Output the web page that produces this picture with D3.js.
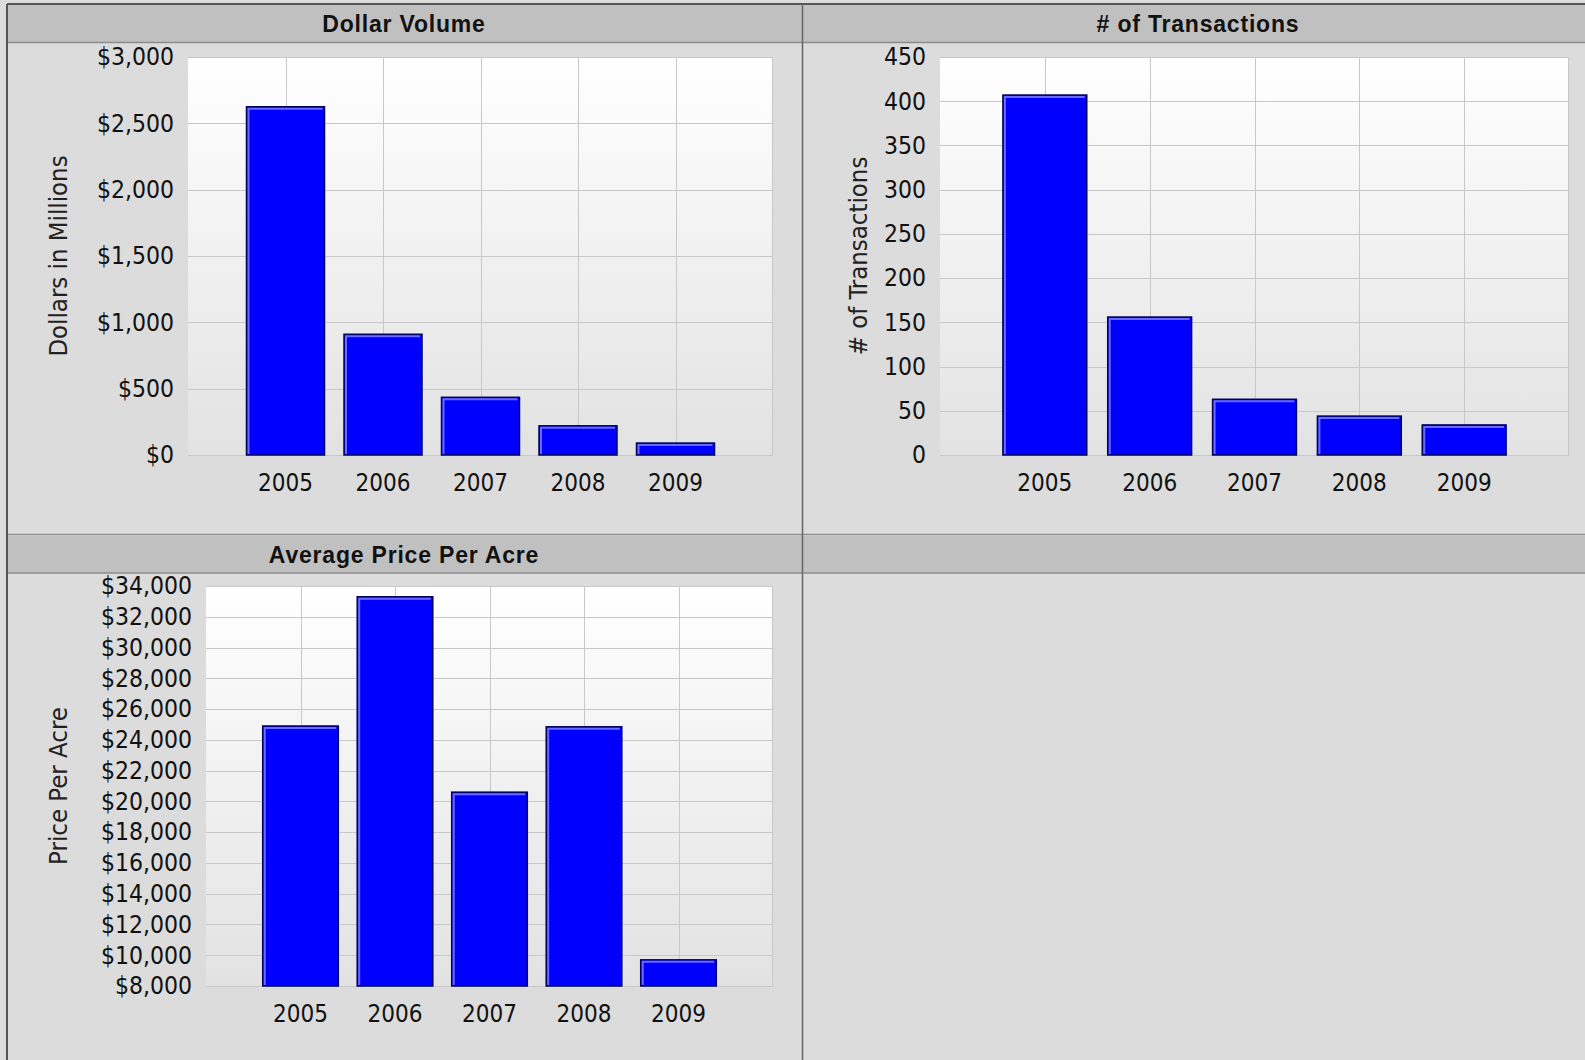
<!DOCTYPE html>
<html>
<head>
<meta charset="utf-8">
<script src="https://cdn.jsdelivr.net/npm/d3@7"></script>
<style>
  body { margin: 0; background: #dcdcdc; }
  svg { display: block; }
</style>
</head>
<body>
<svg id="chart" width="1585" height="1060"></svg>
<script>
// data
const years = ['2005', '2006', '2007', '2008', '2009'];
const dollarVolume = [2625, 910, 435, 220, 90];          // millions
const transactions = [407, 156, 63, 44, 34];
const pricePerAcre = [24900, 33300, 20600, 24850, 9700];

const dollarTicks = [0, 500, 1000, 1500, 2000, 2500, 3000];
const transTicks = [0, 50, 100, 150, 200, 250, 300, 350, 400, 450];
const priceTicks = [8000, 10000, 12000, 14000, 16000, 18000, 20000, 22000,
                    24000, 26000, 28000, 30000, 32000, 34000];

const svg = d3.select('#chart');
const W = 1585, H = 1060;
const TICK_FONT = '"DejaVu Sans Condensed", "DejaVu Sans", sans-serif';
const TITLE_FONT = '"Liberation Sans", Arial, sans-serif';

// gradient for plot backgrounds
const defs = svg.append('defs');
const grad = defs.append('linearGradient').attr('id', 'plotBg')
  .attr('x1', 0).attr('y1', 0).attr('x2', 0).attr('y2', 1);
grad.append('stop').attr('offset', '0%').attr('stop-color', '#ffffff');
grad.append('stop').attr('offset', '100%').attr('stop-color', '#e2e2e2');

// panel frame
const DIV_X = 802;
svg.append('rect').attr('x', 7).attr('y', 4).attr('width', W - 7).attr('height', H - 4)
  .attr('fill', '#dcdcdc');
[[4, 42.5], [536, 573]].forEach(([y0, y1]) => {
  svg.append('rect').attr('x', 7).attr('y', y0).attr('width', W - 7).attr('height', y1 - y0)
    .attr('fill', '#c0c0c0');
  svg.append('line').attr('x1', 7).attr('x2', W).attr('y1', y1).attr('y2', y1)
    .attr('stroke', '#8c8c8c').attr('stroke-width', 1.5);
});
svg.append('line').attr('x1', 7).attr('x2', W).attr('y1', 534.5).attr('y2', 534.5)
  .attr('stroke', '#8c8c8c').attr('stroke-width', 1.5);
svg.append('line').attr('x1', 7).attr('x2', W).attr('y1', 4).attr('y2', 4)
  .attr('stroke', '#555').attr('stroke-width', 2);
svg.append('line').attr('x1', 7).attr('x2', 7).attr('y1', 4).attr('y2', H)
  .attr('stroke', '#555').attr('stroke-width', 2);
svg.append('line').attr('x1', DIV_X + 0.5).attr('x2', DIV_X + 0.5).attr('y1', 4).attr('y2', H)
  .attr('stroke', '#666').attr('stroke-width', 1.5);

function drawPanel({title, cx, titleY, plot, values, ticks, fmt, yLabel, yLabelX}) {
  // header title
  svg.append('text')
    .attr('x', cx).attr('y', titleY)
    .attr('text-anchor', 'middle')
    .attr('font-family', TITLE_FONT).attr('font-weight', 'bold').attr('font-size', 23)
    .attr('letter-spacing', 0.8)
    .attr('fill', '#111')
    .text(title);

  const x = d3.scaleBand().domain(years)
    .range([plot.left, plot.right])
    .paddingInner(0.2).paddingOuter(0.6);
  const y = d3.scaleLinear().domain([ticks[0], ticks[ticks.length - 1]])
    .range([plot.bottom, plot.top]);

  const g = svg.append('g');
  g.append('rect')
    .attr('x', plot.left).attr('y', plot.top)
    .attr('width', plot.right - plot.left).attr('height', plot.bottom - plot.top)
    .attr('fill', 'url(#plotBg)');

  // grid
  g.selectAll('line.hgrid').data(ticks).join('line')
    .attr('class', 'hgrid')
    .attr('x1', plot.left).attr('x2', plot.right)
    .attr('y1', d => Math.round(y(d)) + 0.5).attr('y2', d => Math.round(y(d)) + 0.5)
    .attr('stroke', '#c8c8c8');
  g.selectAll('line.vgrid').data(years).join('line')
    .attr('class', 'vgrid')
    .attr('x1', d => Math.round(x(d) + x.bandwidth() / 2) + 0.5)
    .attr('x2', d => Math.round(x(d) + x.bandwidth() / 2) + 0.5)
    .attr('y1', plot.top).attr('y2', plot.bottom)
    .attr('stroke', '#c8c8c8');
  g.append('line')
    .attr('x1', plot.right - 0.5).attr('x2', plot.right - 0.5)
    .attr('y1', plot.top).attr('y2', plot.bottom)
    .attr('stroke', '#c8c8c8');

  // bars
  const data = years.map((yr, i) => ({yr, v: values[i]}));
  const bars = g.selectAll('g.bar').data(data).join('g').attr('class', 'bar');
  bars.append('rect')
    .attr('x', d => x(d.yr)).attr('y', d => y(d.v))
    .attr('width', x.bandwidth()).attr('height', d => y(ticks[0]) - y(d.v))
    .attr('fill', '#0000ff')
    .attr('stroke', '#000060').attr('stroke-width', 1.5);
  bars.append('path')
    .attr('d', d => {
      const x0 = x(d.yr) + 2, y0 = y(d.v) + 2;
      return `M${x0},${y(ticks[0]) - 1}V${y0}H${x(d.yr) + x.bandwidth() - 2}`;
    })
    .attr('fill', 'none').attr('stroke', '#6a6aff').attr('stroke-width', 2);

  // y axis
  const yAxis = g.append('g')
    .attr('transform', `translate(${plot.left - 14},0)`)
    .call(d3.axisLeft(y).tickValues(ticks).tickFormat(fmt).tickSize(0).tickPadding(0));
  yAxis.select('.domain').remove();
  yAxis.selectAll('text')
    .attr('font-family', TICK_FONT).attr('font-size', 24.5).attr('fill', '#111');

  // x axis
  const xAxis = g.append('g')
    .attr('transform', `translate(0,${plot.bottom + 19})`)
    .call(d3.axisBottom(x).tickSize(0).tickPadding(0));
  xAxis.select('.domain').remove();
  xAxis.selectAll('text')
    .attr('font-family', TICK_FONT).attr('font-size', 24).attr('fill', '#111');

  // y label
  svg.append('text')
    .attr('transform', `translate(${yLabelX},${(plot.top + plot.bottom) / 2}) rotate(-90)`)
    .attr('text-anchor', 'middle')
    .attr('font-family', TICK_FONT).attr('font-size', 25.5).attr('fill', '#222')
    .text(yLabel);
}

const dollarFmt = d3.format('$,');

drawPanel({
  title: 'Dollar Volume', cx: 404, titleY: 32,
  plot: {left: 188, right: 773, top: 57, bottom: 455},
  values: dollarVolume, ticks: dollarTicks, fmt: dollarFmt,
  yLabel: 'Dollars in Millions', yLabelX: 67
});

drawPanel({
  title: '# of Transactions', cx: 1198, titleY: 32,
  plot: {left: 940, right: 1569, top: 57, bottom: 455},
  values: transactions, ticks: transTicks, fmt: d3.format('d'),
  yLabel: '# of Transactions', yLabelX: 867
});

drawPanel({
  title: 'Average Price Per Acre', cx: 404, titleY: 563,
  plot: {left: 206, right: 773, top: 586, bottom: 986},
  values: pricePerAcre, ticks: priceTicks, fmt: dollarFmt,
  yLabel: 'Price Per Acre', yLabelX: 67
});
</script>
</body>
</html>
